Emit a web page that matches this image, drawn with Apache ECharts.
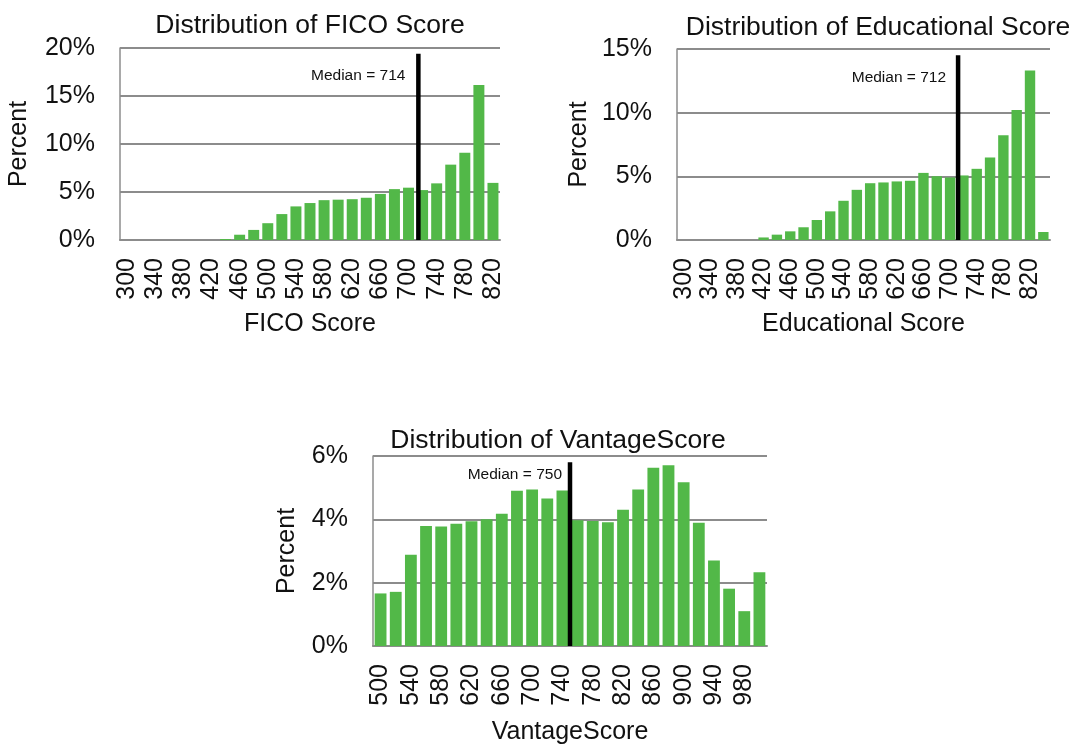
<!DOCTYPE html>
<html>
<head>
<meta charset="utf-8">
<title>Score distributions</title>
<script src="https://cdn.jsdelivr.net/npm/echarts@6/dist/echarts.min.js"></script>
<style>
	html, body { margin: 0; padding: 0; background: #fff; }
	#main { width: 1072px; height: 747px; }
</style>
</head>
<body>
<div id="main"></div>
<script>
// bins of 20 points, values in percent
var fico_cats = ['300','320','340','360','380','400','420','440','460','480','500','520','540','560',
	'580','600','620','640','660','680','700','720','740','760','780','800','820'];
var fico_vals = [0, 0, 0, 0, 0, 0, 0, 0.1, 0.55, 1.05, 1.75, 2.7, 3.5, 3.85,
	4.15, 4.2, 4.25, 4.4, 4.8, 5.3, 5.45, 5.2, 5.9, 7.85, 9.1, 16.15, 5.95];

var edu_cats = ['300','320','340','360','380','400','420','440','460','480','500','520','540','560',
	'580','600','620','640','660','680','700','720','740','760','780','800','820','840'];
var edu_vals = [0, 0, 0, 0, 0, 0, 0.2, 0.42, 0.68, 1.0, 1.57, 2.25, 3.08, 3.94,
	4.46, 4.52, 4.6, 4.65, 5.27, 5.01, 4.91, 5.07, 5.59, 6.48, 8.22, 10.21, 13.32, 0.63];

var van_cats = ['500','520','540','560','580','600','620','640','660','680','700','720','740',
	'760','780','800','820','840','860','880','900','920','940','960','980','1000'];
var van_vals = [1.66, 1.71, 2.88, 3.79, 3.77, 3.86, 3.94, 4.0, 4.18, 4.9, 4.94, 4.66, 4.91,
	3.97, 3.95, 3.91, 4.3, 4.94, 5.63, 5.71, 5.17, 3.89, 2.7, 1.81, 1.1, 2.33];

var titles = ['Distribution of FICO Score', 'Distribution of Educational Score', 'Distribution of VantageScore'];
var xnames = ['FICO Score', 'Educational Score', 'VantageScore'];
var medians = [714, 712, 750];
var median_tops = [19.4, 14.5, 5.8];   // top end of the median line, percent

var font = '"Liberation Sans", Arial, sans-serif';
var ink = '#111';
var gray = '#8c8c8c';
var green = '#52b848';

var chart = echarts.init(document.getElementById('main'), null, {renderer: 'canvas'});

// one histogram panel: grid + category axis + hidden value axis for the median line
function opt_hist(i, p){
	return {
		grid: {left: p.left, top: p.top, width: p.width, height: p.height},
		xcat: {
			type: 'category',
			gridIndex: i,
			data: p.cats,
			name: xnames[i],
			nameLocation: 'middle',
			nameGap: p.xgap,
			nameTextStyle: {fontSize: 25, color: ink, fontFamily: font},
			axisLine: {lineStyle: {color: gray, width: 2}},
			axisTick: {show: false},
			axisLabel: {interval: 1, rotate: 90, margin: 18, fontSize: 25, color: ink, fontFamily: font}
		},
		xval: {
			type: 'value',
			gridIndex: i,
			min: p.binmin,
			max: p.binmax,
			show: false
		},
		y: {
			type: 'value',
			gridIndex: i,
			min: 0,
			max: p.ymax,
			interval: p.step,
			name: 'Percent',
			nameLocation: 'middle',
			nameGap: p.ygap,
			nameTextStyle: {fontSize: 25, color: ink, fontFamily: font},
			axisLine: {show: true, lineStyle: {color: gray, width: 1.5}},
			axisTick: {show: false},
			splitLine: {lineStyle: {color: gray, width: 2}},
			axisLabel: {formatter: '{value}%', margin: 25, fontSize: 25, color: ink, fontFamily: font}
		},
		bars: {
			type: 'bar',
			xAxisIndex: i * 2,
			yAxisIndex: i,
			data: p.vals,
			barCategoryGap: '22%',
			itemStyle: {color: green},
			silent: true,
			z: 2
		},
		median: {
			type: 'line',
			xAxisIndex: i * 2 + 1,
			yAxisIndex: i,
			data: [
				[medians[i], 0],
				{
					value: [medians[i], median_tops[i]],
					label: {
						show: true,
						position: 'left',
						offset: p.loff,
						formatter: 'Median = ' + medians[i],
						fontSize: 15.5,
						color: ink,
						fontFamily: font
					}
				}
			],
			showSymbol: true,
			symbolSize: 0,
			lineStyle: {color: '#000', width: 4.5},
			silent: true,
			animation: false,
			z: 5
		}
	};
}

var panels = [
	opt_hist(0, {left: 120, top: 48, width: 380, height: 192, cats: fico_cats, vals: fico_vals,
		ymax: 20, step: 5, binmin: 290, binmax: 830, xgap: 72, ygap: 88, loff: [-8, 22]}),
	opt_hist(1, {left: 677, top: 49, width: 373, height: 191, cats: edu_cats, vals: edu_vals,
		ymax: 15, step: 5, binmin: 290, binmax: 850, xgap: 72, ygap: 85, loff: [-7, 22]}),
	opt_hist(2, {left: 373, top: 456, width: 394, height: 190, cats: van_cats, vals: van_vals,
		ymax: 6, step: 2, binmin: 490, binmax: 1010, xgap: 74, ygap: 73, loff: [-3, 12]})
];

var title_pos = [[305, 7], [873, 9], [553, 422]];

var option = {
	backgroundColor: '#fff',
	animation: false,
	title: titles.map(function(t, k){
		return {
			text: t,
			left: title_pos[k][0],
			top: title_pos[k][1],
			textAlign: 'center',
			textStyle: {fontSize: 26.5, fontWeight: 'normal', color: ink, fontFamily: font}
		};
	}),
	grid: [],
	xAxis: [],
	yAxis: [],
	series: []
};
panels.forEach(function(p){
	option.grid.push(p.grid);
	option.xAxis.push(p.xcat, p.xval);
	option.yAxis.push(p.y);
	option.series.push(p.bars);
});
panels.forEach(function(p){
	option.series.push(p.median);
});

chart.setOption(option);
window.onresize = chart.resize;
</script>
</body>
</html>
